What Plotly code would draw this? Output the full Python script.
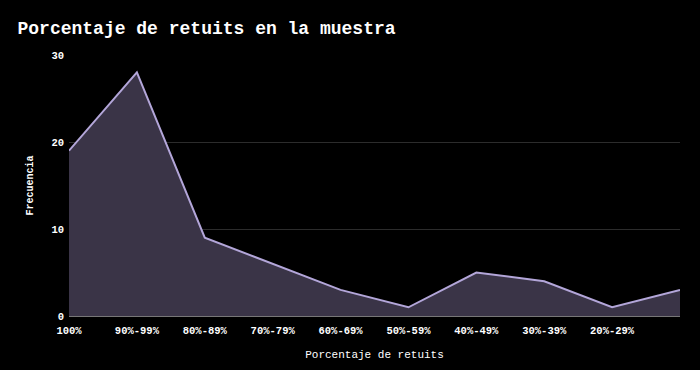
import plotly.graph_objects as go

categories = ["100%", "90%-99%", "80%-89%", "70%-79%", "60%-69%", "50%-59%",
              "40%-49%", "30%-39%", "20%-29%", "10%-19%"]
tick_labels = ["100%", "90%-99%", "80%-89%", "70%-79%", "60%-69%", "50%-59%",
               "40%-49%", "30%-39%", "20%-29%", ""]
frecuencia = [19, 28, 9, 6, 3, 1, 5, 4, 1, 3]
y_ticks = [0, 10, 20, 30]

font_fam = "Liberation Mono, Courier New, monospace"

fig = go.Figure(go.Scatter(
    x=categories, y=frecuencia, mode="lines",
    line=dict(color="#b3a6d9", width=2),
    fill="tozeroy", fillcolor="#3a3447",
    hoverinfo="x+y"))

fig.update_layout(
    width=700, height=370,
    paper_bgcolor="#000000", plot_bgcolor="#000000",
    margin=dict(l=69, r=20, t=55, b=54),
    title=dict(text="<b>Porcentaje de retuits en la muestra</b>",
               x=0.025, xanchor="left", y=0.925, yanchor="middle",
               font=dict(family=font_fam, size=18, color="#ffffff")),
    font=dict(family=font_fam, color="#ffffff"),
    showlegend=False,
    xaxis=dict(type="category", range=[0, 9], tickmode="array",
               tickvals=categories, ticktext=tick_labels,
               showgrid=False, zeroline=False, showline=False,
               ticks="", ticklabelstandoff=6,
               tickfont=dict(family=font_fam, size=10.5, color="#ffffff", weight="bold"),
               title=dict(text="Porcentaje de retuits",
                          font=dict(family=font_fam, size=11, color="#ffffff"),
                          standoff=14)),
    yaxis=dict(range=[0, 30], tickvals=y_ticks,
               showgrid=True, gridcolor="#2c2c2c", gridwidth=1,
               zeroline=True, zerolinecolor="#777777", zerolinewidth=2,
               showline=False,
               tickfont=dict(family=font_fam, size=10.5, color="#ffffff", weight="bold"),
               ticklabelstandoff=4,
               title=dict(text="<b>Frecuencia</b>",
                          font=dict(family=font_fam, size=10, color="#ffffff"),
                          standoff=15)),
)

fig.write_html("out.html",
               config={"displayModeBar": False},
               post_script="document.body.style.margin='0';document.body.style.background='#000';")
